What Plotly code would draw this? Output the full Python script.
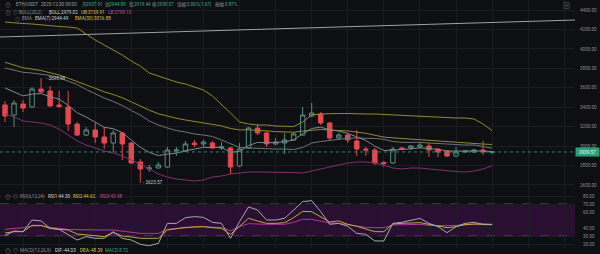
import plotly.graph_objects as go

# ---------------- data ----------------
idx = list(range(55))
opens = [3423, 3320, 3433, 3402, 3587, 3567, 3423, 3402, 3227, 3114,
         3166, 3094, 3032, 3135, 3032, 2837, 2765, 2775, 2785, 2950,
         2950, 3032, 3022, 3032, 2981, 2981, 2795, 2981, 3186, 3135,
         3022, 3032, 3063, 3114, 3310, 3330, 3238, 3084, 3114, 3053,
         2970, 2960, 2831, 2826, 2981, 2981, 2991, 3001, 2970, 2950,
         2898, 2939, 2939, 2960, 2937.91]
highs = [3464, 3474, 3474, 3608, 3698.98, 3618, 3567, 3567, 3248, 3196,
         3238, 3196, 3166, 3145, 3042, 2867, 2806, 2837, 2991, 2991,
         3053, 3063, 3063, 3053, 3042, 2991, 3032, 3197, 3227, 3155,
         3083, 3135, 3145, 3402, 3443, 3351, 3248, 3135, 3135, 3166,
         2991, 2981, 2847, 2991, 2991, 3011, 3032, 3032, 2981, 2960,
         2991, 2960, 2970, 3053, 2944.89]
lows = [3248, 3196, 3351, 3392, 3546, 3402, 3397, 3155, 3104, 3104,
        3032, 2970, 2939, 2857, 2816, 2623.57, 2734, 2770, 2780, 2898,
        2939, 2991, 2991, 2970, 2960, 2713, 2785, 2970, 3114, 2991,
        3011, 2919, 3053, 3104, 3299, 3217, 3063, 3063, 3032, 2898,
        2898, 2806, 2785, 2816, 2960, 2960, 2981, 2888, 2888, 2888,
        2888, 2929, 2929, 2909, 2919.44]
closes = [3310, 3443, 3392, 3587, 3557, 3413, 3407, 3227, 3114, 3166,
          3094, 3032, 3135, 3022, 2826, 2765, 2775, 2806, 2960, 2960,
          3022, 3017, 3042, 2981, 2991, 2785, 2970, 3186, 3135, 3022,
          3042, 3063, 3125, 3320, 3340, 3238, 3084, 3114, 3063, 2970,
          2960, 2826, 2821, 2970, 2970, 3001, 3011, 2960, 2939, 2898,
          2939, 2950, 2960, 2940, 2939.57]

boll_mid = [3803.4, 3782.8, 3759.2, 3752.0, 3741.7, 3726.3, 3702.6, 3669.7, 3633.7, 3582.3,
            3536.0, 3494.8, 3458.8, 3417.7, 3366.3, 3320.0, 3258.3, 3217.1, 3186.2, 3160.6,
            3145.1, 3124.5, 3114.2, 3098.8, 3062.8, 3026.8, 2985.7, 2980.5, 2975.4, 2975.4,
            2970.2, 2970.2, 2965.1, 2985.7, 3031.9, 3047.4, 3059.7, 3070.0, 3080.3, 3083.4,
            3083.4, 3078.2, 3070.0, 3047.4, 3039.2, 3042.2, 3039.2, 3031.9, 3026.8, 3018.6,
            3013.4, 3011.4, 3011.4, 2996.0, 2979.02]
boll_ub = [4276.6, 4266.3, 4261.1, 4256.0, 4245.7, 4235.4, 4230.3, 4225.1, 4214.9, 4153.1,
           4091.4, 4040.0, 3988.6, 3937.1, 3875.4, 3824.0, 3752.0, 3721.1, 3690.3, 3659.4,
           3638.9, 3608.0, 3577.1, 3515.4, 3433.1, 3340.5, 3248.0, 3227.4, 3217.1, 3217.1,
           3206.8, 3206.8, 3201.7, 3248.0, 3320.0, 3330.2, 3335.4, 3335.4, 3335.4, 3330.2,
           3330.2, 3330.2, 3325.1, 3320.0, 3314.8, 3309.7, 3304.5, 3299.4, 3299.4, 3294.3,
           3289.1, 3289.1, 3278.8, 3227.4, 3159.91]
boll_lb = [3330.2, 3299.4, 3258.3, 3248.0, 3237.7, 3217.1, 3176.0, 3114.2, 3052.5, 3011.4,
           2980.5, 2949.7, 2929.1, 2898.2, 2857.1, 2815.9, 2764.5, 2713.1, 2682.2, 2661.7,
           2651.4, 2641.1, 2651.4, 2682.2, 2692.5, 2713.1, 2723.4, 2733.7, 2733.7, 2733.7,
           2733.7, 2733.7, 2728.5, 2723.4, 2744.0, 2764.5, 2785.1, 2805.7, 2826.2, 2836.5,
           2836.5, 2826.2, 2805.7, 2774.8, 2764.5, 2774.8, 2774.8, 2764.5, 2754.2, 2744.0,
           2738.8, 2733.7, 2744.0, 2764.5, 2798.13]
ema7 = [3598, 3559, 3517, 3535, 3540, 3508, 3483, 3419, 3343, 3299,
        3248, 3194, 3179, 3140, 3062, 2988, 2935, 2903, 2917, 2928,
        2952, 2968, 2987, 2985, 2987, 2937, 2945, 3005, 3038, 3034,
        3036, 3043, 3064, 3128, 3181, 3195, 3167, 3154, 3131, 3091,
        3058, 3000, 2955, 2959, 2962, 2972, 2982, 2976, 2967, 2950,
        2947, 2948, 2951, 2948, 2944.49]
ema30 = [3862, 3835, 3806, 3792, 3777, 3754, 3732, 3699, 3661, 3629,
         3595, 3558, 3531, 3498, 3455, 3410, 3369, 3333, 3309, 3286,
         3269, 3253, 3239, 3223, 3208, 3181, 3167, 3168, 3166, 3157,
         3149, 3144, 3143, 3154, 3166, 3171, 3165, 3162, 3156, 3144,
         3132, 3112, 3093, 3085, 3078, 3073, 3069, 3062, 3054, 3044,
         3037, 3031, 3027, 3021, 3016.88]

rsi1 = [30.4, 36.3, 35.4, 50.0, 48.8, 39.6, 38.3, 31.3, 25.0, 29.2,
        27.1, 27.1, 35.4, 27.1, 25.0, 19.6, 17.9, 20.8, 45.8, 45.8,
        52.9, 54.2, 53.3, 47.1, 45.8, 27.1, 47.9, 66.3, 62.5, 50.0,
        50.0, 52.1, 62.5, 72.9, 74.2, 60.4, 44.6, 45.8, 42.1, 33.3,
        32.1, 23.8, 23.8, 45.8, 47.1, 50.0, 52.1, 45.8, 41.7, 34.2,
        41.7, 45.8, 47.1, 44.6, 44.30]
rsi2 = [33.8, 35.4, 35.4, 43.3, 43.3, 39.6, 38.3, 37.5, 32.5, 31.3,
        30.4, 29.2, 34.2, 30.0, 28.8, 27.1, 27.1, 27.1, 37.5, 39.6,
        40.8, 41.3, 41.7, 40.4, 39.6, 32.1, 41.7, 52.1, 48.8, 45.8,
        45.8, 46.7, 52.9, 60.8, 60.4, 54.2, 47.5, 48.8, 44.6, 42.1,
        38.3, 35.4, 35.4, 45.0, 45.8, 45.8, 46.7, 44.6, 42.9, 40.4,
        41.7, 44.2, 45.0, 44.6, 44.62]
rsi3 = [38.3, 39.2, 40.4, 42.5, 42.9, 40.8, 39.2, 38.3, 37.9, 37.5,
        37.5, 37.5, 37.5, 35.8, 34.6, 33.3, 33.3, 33.3, 38.3, 39.6,
        40.8, 41.3, 41.7, 41.3, 40.4, 36.3, 41.7, 45.4, 44.6, 44.6,
        44.6, 44.6, 47.1, 50.8, 50.8, 48.8, 46.3, 45.8, 44.2, 42.9,
        40.8, 40.4, 40.4, 43.8, 43.8, 44.2, 44.6, 43.3, 42.9, 42.9,
        43.3, 44.2, 44.6, 44.2, 43.98]

trend_x = [-0.6, 63.2]
trend_y = [4122, 4297]

price_ticks = [2600, 2800, 3000, 3200, 3400, 3600, 3800, 4000, 4200, 4400]
rsi_ticks = [20, 30, 40, 60, 70, 80]
rsi_band = [30, 70]

# ---------------- styling ----------------
W, H = 600, 254
BG = "#0e0f13"
GRID = "#1b1d22"
RED = "#e5484f"
GREEN = "#55907f"
YEL_LINE = "#978a2a"
GREY1 = "#717379"
GREY2 = "#85878c"
PURP = "#83306f"
TXT = "#8a8e95"
FONT = "Roboto, 'Noto Sans CJK SC', sans-serif"
FS = 4.6

def px(x):
    return x / W

def py(y):
    return 1 - y / H

XR = [-0.554, 63.19]
main_dom = [py(190), 1]
rsi_dom = [py(248), py(190)]

fig = go.Figure()

fig.add_trace(go.Scatter(x=trend_x, y=trend_y, mode="lines",
                         line=dict(color="#9aa39f", width=1), hoverinfo="skip"))
fig.add_trace(go.Scatter(x=idx, y=boll_ub, mode="lines", line=dict(color=YEL_LINE, width=1), hoverinfo="skip"))
fig.add_trace(go.Scatter(x=idx, y=boll_lb, mode="lines", line=dict(color=PURP, width=1), hoverinfo="skip"))
fig.add_trace(go.Scatter(x=idx, y=boll_mid, mode="lines", line=dict(color=GREY1, width=1), hoverinfo="skip"))
fig.add_trace(go.Scatter(x=idx, y=ema30, mode="lines", line=dict(color=YEL_LINE, width=1), hoverinfo="skip"))
fig.add_trace(go.Scatter(x=idx, y=ema7, mode="lines", line=dict(color=GREY2, width=1), hoverinfo="skip"))

fig.add_trace(go.Candlestick(
    x=idx, open=opens, high=highs, low=lows, close=closes,
    increasing=dict(line=dict(color=GREEN, width=1), fillcolor=BG),
    decreasing=dict(line=dict(color=RED, width=1), fillcolor=RED),
    whiskerwidth=0, hoverinfo="skip"))

fig.add_trace(go.Scatter(x=idx, y=rsi3, mode="lines", line=dict(color="#b23a98", width=1),
                         xaxis="x2", yaxis="y2", hoverinfo="skip"))
fig.add_trace(go.Scatter(x=idx, y=rsi2, mode="lines", line=dict(color="#c0ad30", width=1),
                         xaxis="x2", yaxis="y2", hoverinfo="skip"))
fig.add_trace(go.Scatter(x=idx, y=rsi1, mode="lines", line=dict(color="#a9a9ae", width=1),
                         xaxis="x2", yaxis="y2", hoverinfo="skip"))

xcommon = dict(range=XR, showgrid=True, gridcolor=GRID, gridwidth=1, tick0=2, dtick=4,
               showticklabels=False, zeroline=False, showline=False, ticks="",
               domain=[0, px(575)], fixedrange=True)
fig.update_layout(
    width=W, height=H, margin=dict(l=0, r=0, t=0, b=0),
    paper_bgcolor=BG, plot_bgcolor=BG, showlegend=False, hovermode=False,
    font=dict(family=FONT, size=FS, color=TXT),
    xaxis=dict(**xcommon, anchor="y", rangeslider=dict(visible=False)),
    xaxis2=dict(**xcommon, anchor="y2", matches="x"),
    yaxis=dict(domain=main_dom, range=[2548.5, 4502.9], side="right", anchor="x",
               tickvals=price_ticks, tickformat=".2f", showgrid=True, gridcolor=GRID,
               zeroline=False, showline=False, ticks="", ticklabelstandoff=4,
               tickfont=dict(size=FS, color=TXT), automargin=False),
    yaxis2=dict(domain=rsi_dom, range=[15, 87.5], side="right", anchor="x2",
                tickvals=rsi_ticks, tickformat=".2f", showgrid=True, gridcolor=GRID,
                zeroline=False, showline=False, ticks="", ticklabelstandoff=7,
                tickfont=dict(size=FS, color=TXT), automargin=False),
)

# RSI band
fig.add_shape(type="rect", xref="paper", yref="y2", x0=0, x1=px(575),
              y0=rsi_band[0], y1=rsi_band[1], fillcolor="#2c0d34", line_width=0, layer="below")
for v in rsi_band:
    fig.add_shape(type="line", xref="paper", yref="y2", x0=0, x1=px(575), y0=v, y1=v,
                  line=dict(color="#5c5c63", width=1, dash="dash"), layer="below")

# last price line and label
last = closes[-1]
fig.add_shape(type="line", xref="paper", yref="y", x0=0, x1=px(575), y0=last, y1=last,
              line=dict(color="#2a8a72", width=1, dash="dot"))
fig.add_annotation(xref="paper", yref="y", x=px(575), y=last, xanchor="left", yanchor="middle",
                   text=f"{last:.2f}", showarrow=False, bgcolor="#27a07c", width=23, height=8,
                   borderpad=0, font=dict(size=FS, color="#f0f5f2", family=FONT))

# high / low markers
hi_i = highs.index(max(highs))
lo_i = lows.index(min(lows))
fig.add_annotation(x=hi_i, y=max(highs), xref="x", yref="y", text=f"- {max(highs):.2f}",
                   showarrow=False, xanchor="left", yanchor="middle", xshift=3,
                   font=dict(size=FS, color="#c9cbd0"))
fig.add_annotation(x=lo_i, y=min(lows), xref="x", yref="y", text=f"- {min(lows):.2f}",
                   showarrow=False, xanchor="left", yanchor="middle", xshift=1,
                   font=dict(size=FS, color="#c9cbd0"))

# header texts
def txt(x, y, s, color, size=FS):
    fig.add_annotation(xref="paper", yref="paper", x=px(x), y=py(y), text=s, showarrow=False,
                       xanchor="left", yanchor="middle", font=dict(size=size, color=color, family=FONT))

LBL = "#8a8e95"
VAL = "#3aae8c"
WHT = "#d2d3d6"
YEL = "#dcc63a"
MAG = "#c44aa8"

txt(3, 5, "⊙", "#6d7077", 6)
txt(14, 5, "ETH/USDT", "#9aa0a6")
txt(39, 5, "2025-12-30 08:00", "#9aa0a6")
for x, s, c in [(80, "开", LBL), (84, "2937.91", VAL), (103, "高", LBL), (107, "2944.89", VAL),
                (127, "低", LBL), (132, "2919.44", VAL), (150, "收", LBL), (155, "2939.57", VAL),
                (175, "涨幅", LBL), (185, "0.06%(1.67)", VAL), (213, "振幅", LBL), (223, "0.87%", VAL)]:
    txt(x, 5, s, c)

txt(3, 12, "⊙", "#6d7077", 6)
txt(11, 12, "◎", "#6d7077", 5)
txt(17, 12, "BOLL(20,2)", LBL)
txt(47, 12, "BOLL:2979.02", WHT)
txt(79, 12, "UB:3159.91", YEL)
txt(106, 12, "LB:2798.13", MAG)

txt(13, 19, "◎", "#6d7077", 5)
txt(20, 19, "EMA", LBL)
txt(33, 19, "EMA(7):2944.49", WHT)
txt(73, 19, "EMA(30):3016.88", YEL)

txt(3, 196, "⊙", "#6d7077", 6)
txt(11, 196, "◎", "#6d7077", 5)
txt(18, 196, "RSI(6,12,24)", LBL)
txt(46, 196, "RSI1:44.30", WHT)
txt(71, 196, "RSI2:44.62", YEL)
txt(98, 196, "RSI3:43.98", MAG)

txt(3, 250, "⊙", "#6d7077", 6)
txt(11, 250, "◎", "#6d7077", 5)
txt(18, 250, "MACD(12,26,9)", LBL)
txt(53, 250, "DIF:-44.03", WHT)
txt(78, 250, "DEA:-48.39", YEL)
txt(103, 250, "MACD:8.72", "#2fa882")

txt(561, 6, "⊠", "#5e6168", 7)

fig.write_html("out.html")
